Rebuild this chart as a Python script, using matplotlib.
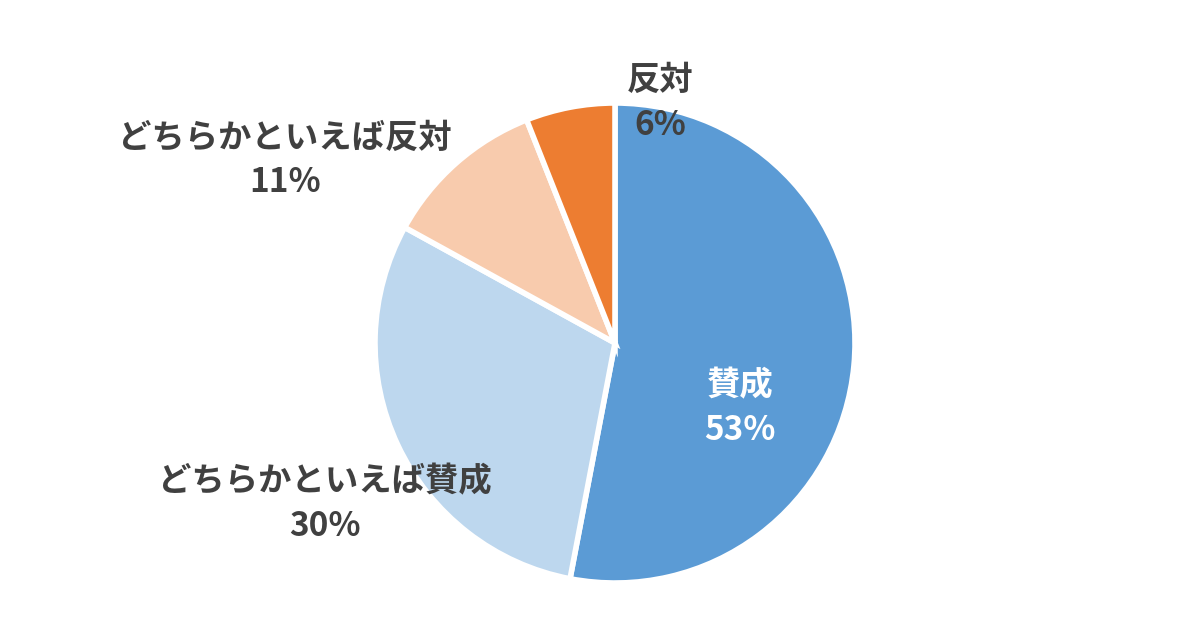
import matplotlib
matplotlib.use("Agg")
import matplotlib.pyplot as plt

plt.rcParams['font.family'] = ['Noto Sans CJK JP', 'DejaVu Sans']

categories = ["賛成", "どちらかといえば賛成", "どちらかといえば反対", "反対"]
values = [53, 30, 11, 6]
colors = ["#5B9BD5", "#BDD7EE", "#F8CBAD", "#ED7D31"]
label_pos = [(0.52, -0.27), (-1.21, -0.67), (-1.375, 0.76), (0.19, 1.0)]
label_colors = ["white", "#404040", "#404040", "#404040"]

fig = plt.figure(figsize=(11.85, 6.22), dpi=100)
ax = fig.add_axes([(615 - 240) / 1185, (279 - 240) / 622, 480 / 1185, 480 / 622])
ax.pie(values, colors=colors, startangle=90, counterclock=False,
       wedgeprops=dict(edgecolor="white", linewidth=4), radius=1.0)
ax.set_xlim(-1, 1)
ax.set_ylim(-1, 1)
ax.set_aspect("equal")
for cat, v, (x, y), c in zip(categories, values, label_pos, label_colors):
    ax.text(x, y, f"{cat}\n{v}%", ha="center", va="center", fontsize=24,
            fontweight="bold", color=c, linespacing=1.45, clip_on=False)
fig.savefig("out.png", dpi=100)
